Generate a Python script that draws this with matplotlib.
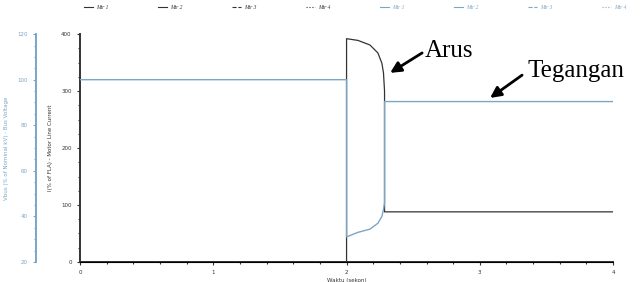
import numpy as np
import matplotlib.pyplot as plt
from matplotlib.ticker import MultipleLocator

# Motor line current (% FLA) vs time
t_cur = [0.0, 2.0, 2.0, 2.085, 2.175, 2.235, 2.265, 2.277, 2.285, 2.285, 4.0]
cur = [0, 0, 392, 389, 381, 367, 349, 332, 300, 88, 88]

# Bus voltage (%) vs time
t_volt = [0.0, 2.0, 2.0, 2.085, 2.175, 2.235, 2.265, 2.277, 2.285, 2.285, 4.0]
volt = [100, 100, 31, 33, 34.4, 37, 40, 43, 46, 90.4, 90.4]

legend_labels = ["Mtr 1", "Mtr 2", "Mtr 3", "Mtr 4"]
legend_styles = ["-", "-", "--", ":"]

BLUE = "#7aa6c8"
DARK = "#333333"

fig = plt.figure(figsize=(6.4, 2.82), dpi=100)
ax = fig.add_axes([0.125, 0.071, 0.833, 0.808])

ax.plot(t_cur, cur, color=DARK, lw=0.9, zorder=3)
ax.set_xlim(0, 4)
ax.set_ylim(0, 400)
ax.xaxis.set_major_locator(MultipleLocator(1))
ax.xaxis.set_minor_locator(MultipleLocator(0.2))
ax.yaxis.set_major_locator(MultipleLocator(100))
ax.yaxis.set_minor_locator(MultipleLocator(25))
for s in ["top", "right"]:
    ax.spines[s].set_visible(False)
ax.spines["left"].set_linewidth(1.4)
ax.spines["bottom"].set_linewidth(1.4)
ax.spines["left"].set_color(DARK)
ax.spines["bottom"].set_color(DARK)
ax.tick_params(which="both", labelsize=4, colors=DARK, length=2.5, width=0.8)
ax.tick_params(which="minor", length=1.5)
ax.set_xlabel("Waktu (sekon)", fontsize=4, labelpad=2, color=DARK)
ax.set_ylabel("I(% of FLA) - Motor Line Current", fontsize=4, labelpad=6, color=DARK)

ax2 = ax.twinx()
ax2.plot(t_volt, volt, color=BLUE, lw=1.0, zorder=2)
ax2.set_ylim(20, 120)
ax2.yaxis.set_major_locator(MultipleLocator(20))
ax2.yaxis.set_minor_locator(MultipleLocator(5))
ax2.spines["right"].set_visible(False)
ax2.spines["top"].set_visible(False)
ax2.spines["left"].set_visible(True)
ax2.spines["left"].set_position(("outward", 31.7))
ax2.spines["left"].set_color(BLUE)
ax2.spines["left"].set_linewidth(1.4)
ax2.yaxis.set_ticks_position("left")
ax2.yaxis.set_label_position("left")
ax2.tick_params(which="both", labelsize=4, colors=BLUE, length=2.5, width=0.8)
ax2.tick_params(which="minor", length=1.5)
ax2.set_ylabel("Vbus (% of Nominal kV) - Bus Voltage", fontsize=4, labelpad=6, color=BLUE)

# legend: four black (current) + four blue (voltage) entries
handles = []
for lab, ls in zip(legend_labels, legend_styles):
    handles += ax.plot([], [], color=DARK, lw=0.8, ls=ls, label=lab)
for lab, ls in zip(legend_labels, legend_styles):
    handles += ax.plot([], [], color=BLUE, lw=0.8, ls=ls, label=lab)
leg = fig.legend(handles=handles, loc="upper center", bbox_to_anchor=(0.555, 1.0),
                 ncol=8, frameon=False, columnspacing=9.0, handlelength=1.6,
                 handletextpad=0.5,
                 prop={"family": "Liberation Serif", "style": "italic", "size": 4})
for i, txt in enumerate(leg.get_texts()):
    txt.set_color(DARK if i < 4 else BLUE)

# annotations
arrow = dict(arrowstyle="-|>", color="black", lw=2.0, mutation_scale=16,
             shrinkA=0, shrinkB=0)
ax.annotate("", xy=(2.327, 332), xytext=(2.567, 367), arrowprops=arrow)
ax.text(2.59, 360, "Arus", fontsize=18, family="Liberation Serif",
        ha="left", va="baseline")
ax.annotate("", xy=(3.077, 288), xytext=(3.317, 328), arrowprops=arrow)
ax.text(3.355, 325, "Tegangan", fontsize=18, family="Liberation Serif",
        ha="left", va="baseline", clip_on=False)

fig.savefig("out.png", dpi=100)
